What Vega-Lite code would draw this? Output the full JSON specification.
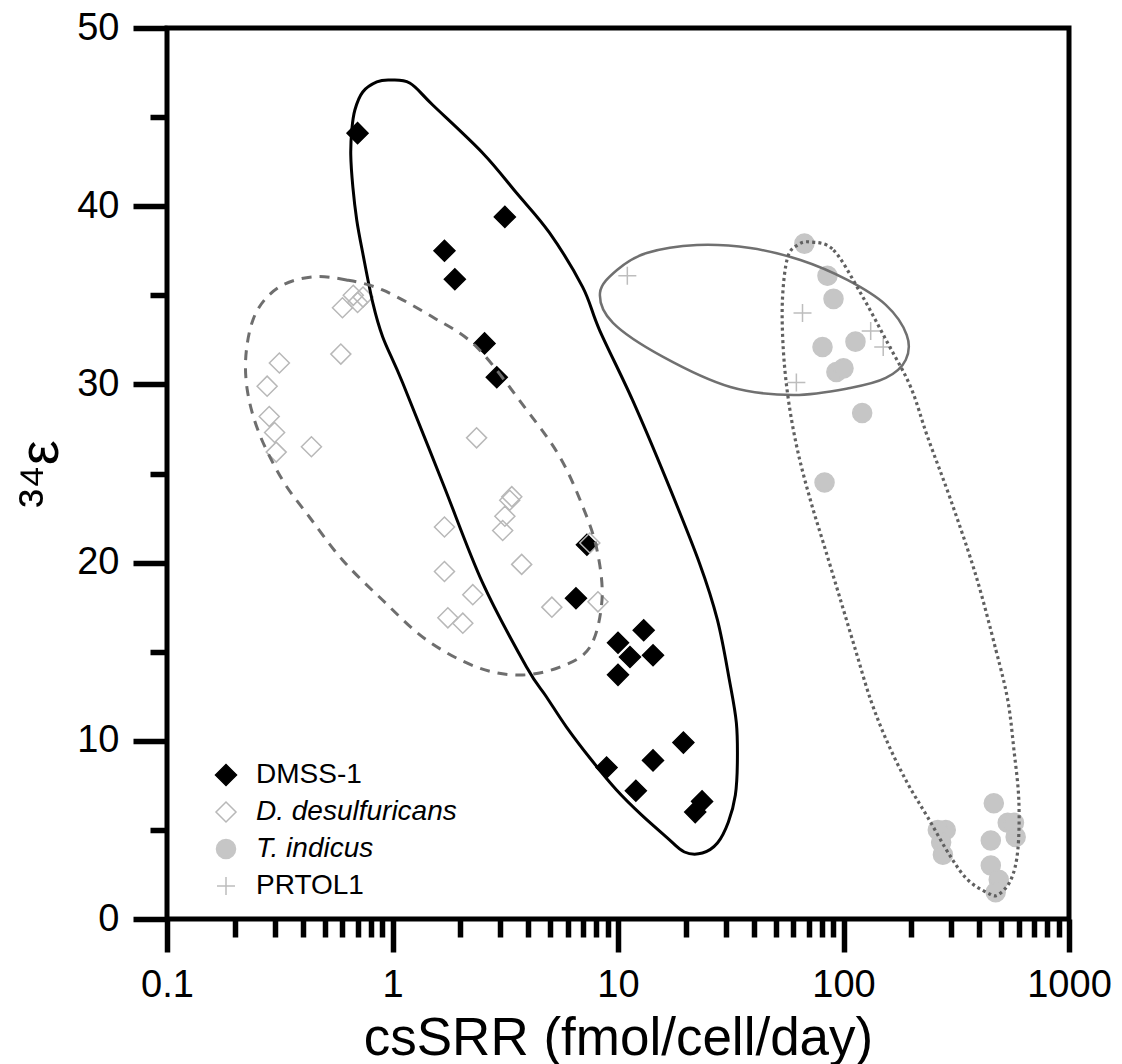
{
  "$schema": "https://vega.github.io/schema/vega-lite/v6.json",
  "width": 902,
  "height": 891,
  "autosize": {"type": "none"},
  "padding": {"left": 167, "top": 28, "right": 53, "bottom": 145},
  "background": "white",
  "config": {
    "view": {"stroke": "black", "strokeWidth": 5},
    "font": "Liberation Sans",
    "axis": {"domain": false, "grid": false, "labelFont": "Liberation Sans", "titleFont": "Liberation Sans", "labelColor": "black", "titleColor": "black", "tickColor": "black", "titleFontWeight": "normal"}
  },
  "datasets": {
    "pts": [
      {"sp": "DMSS-1", "x": 0.70, "y": 44.1},
      {"sp": "DMSS-1", "x": 3.15, "y": 39.4},
      {"sp": "DMSS-1", "x": 1.70, "y": 37.5},
      {"sp": "DMSS-1", "x": 1.89, "y": 35.9},
      {"sp": "DMSS-1", "x": 2.56, "y": 32.3},
      {"sp": "DMSS-1", "x": 2.90, "y": 30.4},
      {"sp": "DMSS-1", "x": 7.28, "y": 21.0},
      {"sp": "DMSS-1", "x": 6.51, "y": 18.0},
      {"sp": "DMSS-1", "x": 13.0, "y": 16.2},
      {"sp": "DMSS-1", "x": 10.0, "y": 15.5},
      {"sp": "DMSS-1", "x": 14.3, "y": 14.8},
      {"sp": "DMSS-1", "x": 11.3, "y": 14.7},
      {"sp": "DMSS-1", "x": 10.0, "y": 13.7},
      {"sp": "DMSS-1", "x": 19.5, "y": 9.9},
      {"sp": "DMSS-1", "x": 14.3, "y": 8.9},
      {"sp": "DMSS-1", "x": 8.9, "y": 8.5},
      {"sp": "DMSS-1", "x": 12.0, "y": 7.2},
      {"sp": "DMSS-1", "x": 23.6, "y": 6.6},
      {"sp": "DMSS-1", "x": 22.0, "y": 6.0},
      {"sp": "D. desulfuricans", "x": 0.60, "y": 34.3},
      {"sp": "D. desulfuricans", "x": 0.70, "y": 34.6},
      {"sp": "D. desulfuricans", "x": 0.74, "y": 34.9},
      {"sp": "D. desulfuricans", "x": 0.67, "y": 35.0},
      {"sp": "D. desulfuricans", "x": 0.59, "y": 31.7},
      {"sp": "D. desulfuricans", "x": 0.315, "y": 31.2},
      {"sp": "D. desulfuricans", "x": 0.278, "y": 29.9},
      {"sp": "D. desulfuricans", "x": 0.284, "y": 28.2},
      {"sp": "D. desulfuricans", "x": 0.30, "y": 27.3},
      {"sp": "D. desulfuricans", "x": 0.305, "y": 26.2},
      {"sp": "D. desulfuricans", "x": 0.437, "y": 26.5},
      {"sp": "D. desulfuricans", "x": 2.36, "y": 27.0},
      {"sp": "D. desulfuricans", "x": 3.31, "y": 23.5},
      {"sp": "D. desulfuricans", "x": 3.38, "y": 23.7},
      {"sp": "D. desulfuricans", "x": 3.15, "y": 22.6},
      {"sp": "D. desulfuricans", "x": 3.08, "y": 21.8},
      {"sp": "D. desulfuricans", "x": 1.70, "y": 22.0},
      {"sp": "D. desulfuricans", "x": 3.74, "y": 19.9},
      {"sp": "D. desulfuricans", "x": 1.70, "y": 19.5},
      {"sp": "D. desulfuricans", "x": 2.27, "y": 18.2},
      {"sp": "D. desulfuricans", "x": 1.76, "y": 16.9},
      {"sp": "D. desulfuricans", "x": 2.05, "y": 16.6},
      {"sp": "D. desulfuricans", "x": 5.09, "y": 17.5},
      {"sp": "D. desulfuricans", "x": 8.15, "y": 17.8},
      {"sp": "D. desulfuricans", "x": 7.5, "y": 21.1},
      {"sp": "T. indicus", "x": 67.1, "y": 37.9},
      {"sp": "T. indicus", "x": 84.9, "y": 36.1},
      {"sp": "T. indicus", "x": 90.3, "y": 34.8},
      {"sp": "T. indicus", "x": 80.7, "y": 32.1},
      {"sp": "T. indicus", "x": 113, "y": 32.4},
      {"sp": "T. indicus", "x": 93, "y": 30.7},
      {"sp": "T. indicus", "x": 100, "y": 30.9},
      {"sp": "T. indicus", "x": 121, "y": 28.4},
      {"sp": "T. indicus", "x": 82.4, "y": 24.5},
      {"sp": "T. indicus", "x": 464, "y": 6.5},
      {"sp": "T. indicus", "x": 535, "y": 5.4},
      {"sp": "T. indicus", "x": 570, "y": 5.4},
      {"sp": "T. indicus", "x": 580, "y": 4.6},
      {"sp": "T. indicus", "x": 450, "y": 4.4},
      {"sp": "T. indicus", "x": 284, "y": 5.0},
      {"sp": "T. indicus", "x": 262, "y": 5.0},
      {"sp": "T. indicus", "x": 271, "y": 4.3},
      {"sp": "T. indicus", "x": 276, "y": 3.6},
      {"sp": "T. indicus", "x": 450, "y": 3.0},
      {"sp": "T. indicus", "x": 488, "y": 2.2},
      {"sp": "T. indicus", "x": 473, "y": 1.5},
      {"sp": "PRTOL1", "x": 11.0, "y": 36.1},
      {"sp": "PRTOL1", "x": 65.8, "y": 34.0},
      {"sp": "PRTOL1", "x": 132, "y": 33.0},
      {"sp": "PRTOL1", "x": 150, "y": 32.1},
      {"sp": "PRTOL1", "x": 61.8, "y": 30.1}
    ],
    "ell": [
      {"e": "A", "i": 1, "x": 0.972, "y": 47.08},
      {"e": "A", "i": 2, "x": 1.192, "y": 46.91},
      {"e": "A", "i": 3, "x": 1.508, "y": 45.68},
      {"e": "A", "i": 4, "x": 2.510, "y": 42.99},
      {"e": "A", "i": 5, "x": 3.551, "y": 40.74},
      {"e": "A", "i": 6, "x": 4.973, "y": 38.50},
      {"e": "A", "i": 7, "x": 6.963, "y": 35.47},
      {"e": "A", "i": 8, "x": 8.282, "y": 33.05},
      {"e": "A", "i": 9, "x": 11.59, "y": 29.13},
      {"e": "A", "i": 10, "x": 16.40, "y": 24.64},
      {"e": "A", "i": 11, "x": 22.96, "y": 19.98},
      {"e": "A", "i": 12, "x": 27.60, "y": 16.78},
      {"e": "A", "i": 13, "x": 31.18, "y": 13.41},
      {"e": "A", "i": 14, "x": 33.49, "y": 11.00},
      {"e": "A", "i": 15, "x": 33.83, "y": 8.75},
      {"e": "A", "i": 16, "x": 33.15, "y": 6.96},
      {"e": "A", "i": 17, "x": 30.87, "y": 5.44},
      {"e": "A", "i": 18, "x": 27.60, "y": 4.26},
      {"e": "A", "i": 19, "x": 23.67, "y": 3.70},
      {"e": "A", "i": 20, "x": 19.70, "y": 3.76},
      {"e": "A", "i": 21, "x": 16.40, "y": 4.60},
      {"e": "A", "i": 22, "x": 12.71, "y": 5.84},
      {"e": "A", "i": 23, "x": 9.85, "y": 7.24},
      {"e": "A", "i": 24, "x": 7.63, "y": 8.92},
      {"e": "A", "i": 25, "x": 5.91, "y": 10.77},
      {"e": "A", "i": 26, "x": 4.82, "y": 12.46},
      {"e": "A", "i": 27, "x": 3.93, "y": 14.14},
      {"e": "A", "i": 28, "x": 2.510, "y": 18.86},
      {"e": "A", "i": 29, "x": 1.670, "y": 24.47},
      {"e": "A", "i": 30, "x": 1.110, "y": 30.08},
      {"e": "A", "i": 31, "x": 0.905, "y": 32.66},
      {"e": "A", "i": 32, "x": 0.818, "y": 34.57},
      {"e": "A", "i": 33, "x": 0.738, "y": 37.37},
      {"e": "A", "i": 34, "x": 0.694, "y": 39.23},
      {"e": "A", "i": 35, "x": 0.667, "y": 41.08},
      {"e": "A", "i": 36, "x": 0.653, "y": 42.87},
      {"e": "A", "i": 37, "x": 0.660, "y": 44.28},
      {"e": "A", "i": 38, "x": 0.681, "y": 45.40},
      {"e": "A", "i": 39, "x": 0.738, "y": 46.41},
      {"e": "A", "i": 40, "x": 0.852, "y": 46.97},
      {"e": "B", "i": 1, "x": 0.441, "y": 36.03},
      {"e": "B", "i": 2, "x": 0.625, "y": 35.86},
      {"e": "B", "i": 3, "x": 0.903, "y": 35.30},
      {"e": "B", "i": 4, "x": 1.506, "y": 33.78},
      {"e": "B", "i": 5, "x": 2.36, "y": 32.10},
      {"e": "B", "i": 6, "x": 3.94, "y": 28.56},
      {"e": "B", "i": 7, "x": 5.52, "y": 25.93},
      {"e": "B", "i": 8, "x": 6.99, "y": 23.12},
      {"e": "B", "i": 9, "x": 8.07, "y": 20.71},
      {"e": "B", "i": 10, "x": 8.49, "y": 17.90},
      {"e": "B", "i": 11, "x": 7.51, "y": 15.26},
      {"e": "B", "i": 12, "x": 5.52, "y": 14.14},
      {"e": "B", "i": 13, "x": 3.67, "y": 13.69},
      {"e": "B", "i": 14, "x": 2.36, "y": 14.14},
      {"e": "B", "i": 15, "x": 1.416, "y": 15.66},
      {"e": "B", "i": 16, "x": 0.903, "y": 17.90},
      {"e": "B", "i": 17, "x": 0.60, "y": 20.15},
      {"e": "B", "i": 18, "x": 0.428, "y": 22.56},
      {"e": "B", "i": 19, "x": 0.325, "y": 24.64},
      {"e": "B", "i": 20, "x": 0.256, "y": 27.27},
      {"e": "B", "i": 21, "x": 0.227, "y": 29.69},
      {"e": "B", "i": 22, "x": 0.225, "y": 31.93},
      {"e": "B", "i": 23, "x": 0.249, "y": 34.06},
      {"e": "B", "i": 24, "x": 0.315, "y": 35.47},
      {"e": "C", "i": 1, "x": 8.32, "y": 35.13},
      {"e": "C", "i": 2, "x": 9.9, "y": 36.42},
      {"e": "C", "i": 3, "x": 13.4, "y": 37.37},
      {"e": "C", "i": 4, "x": 22.4, "y": 37.82},
      {"e": "C", "i": 5, "x": 38.6, "y": 37.65},
      {"e": "C", "i": 6, "x": 64.4, "y": 36.98},
      {"e": "C", "i": 7, "x": 104, "y": 35.86},
      {"e": "C", "i": 8, "x": 154, "y": 34.46},
      {"e": "C", "i": 9, "x": 190.7, "y": 32.77},
      {"e": "C", "i": 10, "x": 188.7, "y": 31.37},
      {"e": "C", "i": 11, "x": 154, "y": 30.36},
      {"e": "C", "i": 12, "x": 107, "y": 29.80},
      {"e": "C", "i": 13, "x": 60, "y": 29.41},
      {"e": "C", "i": 14, "x": 31.5, "y": 29.85},
      {"e": "C", "i": 15, "x": 15.85, "y": 31.54},
      {"e": "C", "i": 16, "x": 9.5, "y": 33.45},
      {"e": "D", "i": 1, "x": 71.3, "y": 37.99},
      {"e": "D", "i": 2, "x": 90.3, "y": 37.54},
      {"e": "D", "i": 3, "x": 119, "y": 35.13},
      {"e": "D", "i": 4, "x": 157, "y": 32.32},
      {"e": "D", "i": 5, "x": 198.6, "y": 29.85},
      {"e": "D", "i": 6, "x": 236, "y": 27.05},
      {"e": "D", "i": 7, "x": 299, "y": 23.51},
      {"e": "D", "i": 8, "x": 386, "y": 19.30},
      {"e": "D", "i": 9, "x": 474, "y": 15.10},
      {"e": "D", "i": 10, "x": 535, "y": 12.29},
      {"e": "D", "i": 11, "x": 570, "y": 9.48},
      {"e": "D", "i": 12, "x": 599, "y": 6.68},
      {"e": "D", "i": 13, "x": 593, "y": 3.87},
      {"e": "D", "i": 14, "x": 552, "y": 2.19},
      {"e": "D", "i": 15, "x": 483, "y": 1.35},
      {"e": "D", "i": 16, "x": 436, "y": 1.46},
      {"e": "D", "i": 17, "x": 356, "y": 2.19},
      {"e": "D", "i": 18, "x": 299, "y": 3.48},
      {"e": "D", "i": 19, "x": 236, "y": 5.72},
      {"e": "D", "i": 20, "x": 192, "y": 7.63},
      {"e": "D", "i": 21, "x": 157, "y": 9.88},
      {"e": "D", "i": 22, "x": 132, "y": 12.29},
      {"e": "D", "i": 23, "x": 113, "y": 15.10},
      {"e": "D", "i": 24, "x": 97, "y": 17.90},
      {"e": "D", "i": 25, "x": 83.2, "y": 20.71},
      {"e": "D", "i": 26, "x": 71.3, "y": 23.51},
      {"e": "D", "i": 27, "x": 62.5, "y": 26.32},
      {"e": "D", "i": 28, "x": 57.0, "y": 29.12},
      {"e": "D", "i": 29, "x": 54.1, "y": 31.93},
      {"e": "D", "i": 30, "x": 53.6, "y": 34.74},
      {"e": "D", "i": 31, "x": 56.4, "y": 37.09},
      {"e": "D", "i": 32, "x": 62.5, "y": 37.82}
    ]
  },
  "layer": [
    {
      "data": {"name": "pts"},
      "mark": {"type": "point", "filled": true, "strokeWidth": 1.5, "opacity": 1},
      "encoding": {
        "x": {
          "field": "x", "type": "quantitative",
          "scale": {"type": "log", "domain": [0.1, 1000], "nice": false},
          "axis": {
            "title": "csSRR (fmol/cell/day)",
            "titleFontSize": 53,
            "titlePadding": 8,
            "labelFontSize": 38,
            "labelPadding": 14,
            "labelOverlap": false,
            "labelBound": false,
            "labelFlush": false,
            "format": "~g",
            "values": [0.1, 0.2, 0.3, 0.4, 0.5, 0.6, 0.7, 0.8, 0.9, 1, 2, 3, 4, 5, 6, 7, 8, 9, 10, 20, 30, 40, 50, 60, 70, 80, 90, 100, 200, 300, 400, 500, 600, 700, 800, 900, 1000],
            "labelExpr": "(datum.value == 0.1 || datum.value == 1 || datum.value == 10 || datum.value == 100 || datum.value == 1000) ? datum.label : ''",
            "tickSize": {"condition": {"test": "datum.value == 0.1 || datum.value == 1 || datum.value == 10 || datum.value == 100 || datum.value == 1000", "value": 33}, "value": 18},
            "tickWidth": 5.5
          }
        },
        "y": {
          "field": "y", "type": "quantitative",
          "scale": {"domain": [0, 50], "nice": false},
          "axis": {
            "title": "³⁴ε",
            "titleFontSize": 56,
            "titlePadding": 7,
            "labelFontSize": 38,
            "labelPadding": 14,
            "labelOverlap": false,
            "values": [0, 5, 10, 15, 20, 25, 30, 35, 40, 45, 50],
            "labelExpr": "datum.value % 10 == 0 ? datum.label : ''",
            "tickSize": {"condition": {"test": "datum.value % 10 == 0", "value": 34}, "value": 17},
            "tickWidth": 5.5
          }
        },
        "fill": {
          "field": "sp", "type": "nominal",
          "scale": {"domain": ["DMSS-1", "D. desulfuricans", "T. indicus", "PRTOL1"], "range": ["#000000", "transparent", "#c6c6c6", "transparent"]},
          "legend": {
            "title": null,
            "orient": "none",
            "legendX": 45,
            "legendY": 733,
            "labelFontSize": 28,
            "labelFont": "Liberation Sans",
            "labelColor": "black",
            "labelLimit": 600,
            "labelFontStyle": {"expr": "(datum.value == 'D. desulfuricans' || datum.value == 'T. indicus') ? 'italic' : 'normal'"},
            "rowPadding": 9,
            "symbolStrokeWidth": 1.5,
            "labelOffset": 16
          }
        },
        "shape": {
          "field": "sp", "type": "nominal",
          "scale": {"domain": ["DMSS-1", "D. desulfuricans", "T. indicus", "PRTOL1"], "range": ["diamond", "diamond", "circle", "M-1,0H1M0,-1V1"]}
        },
        "stroke": {
          "field": "sp", "type": "nominal",
          "scale": {"domain": ["DMSS-1", "D. desulfuricans", "T. indicus", "PRTOL1"], "range": ["#000000", "#b8b8b8", "#c6c6c6", "#bdbdbd"]}
        },
        "size": {
          "field": "sp", "type": "nominal",
          "scale": {"domain": ["DMSS-1", "D. desulfuricans", "T. indicus", "PRTOL1"], "range": [440, 324, 227, 169]}
        }
      }
    },
    {
      "data": {"name": "ell"},
      "transform": [{"filter": "datum.e == 'A'"}],
      "mark": {"type": "line", "interpolate": "cardinal-closed", "color": "black", "strokeWidth": 3},
      "encoding": {"x": {"field": "x", "type": "quantitative"}, "y": {"field": "y", "type": "quantitative"}, "order": {"field": "i"}}
    },
    {
      "data": {"name": "ell"},
      "transform": [{"filter": "datum.e == 'B'"}],
      "mark": {"type": "line", "interpolate": "cardinal-closed", "color": "#6e6e6e", "strokeWidth": 3, "strokeDash": [10, 8]},
      "encoding": {"x": {"field": "x", "type": "quantitative"}, "y": {"field": "y", "type": "quantitative"}, "order": {"field": "i"}}
    },
    {
      "data": {"name": "ell"},
      "transform": [{"filter": "datum.e == 'C'"}],
      "mark": {"type": "line", "interpolate": "cardinal-closed", "color": "#707070", "strokeWidth": 2.5},
      "encoding": {"x": {"field": "x", "type": "quantitative"}, "y": {"field": "y", "type": "quantitative"}, "order": {"field": "i"}}
    },
    {
      "data": {"name": "ell"},
      "transform": [{"filter": "datum.e == 'D'"}],
      "mark": {"type": "line", "interpolate": "cardinal-closed", "color": "#606060", "strokeWidth": 3.2, "strokeDash": [3, 3.2]},
      "encoding": {"x": {"field": "x", "type": "quantitative"}, "y": {"field": "y", "type": "quantitative"}, "order": {"field": "i"}}
    }
  ]
}
